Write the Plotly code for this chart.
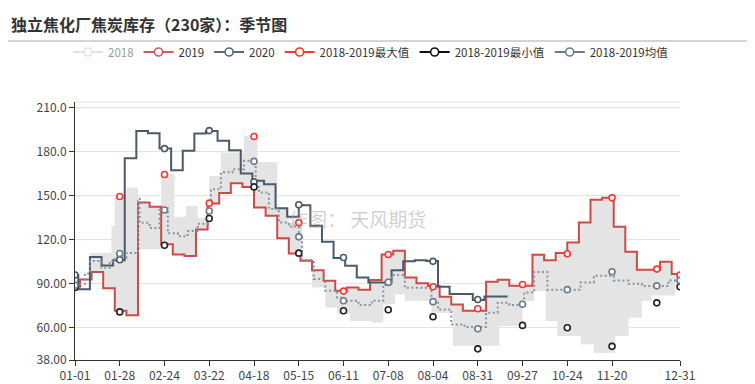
import pandas as pd
import plotly.graph_objects as go

# ---------------- data ----------------
YEAR_BASE = "2020-01-01"

tick_labels = ["01-01", "01-28", "02-24", "03-22", "04-18", "05-15", "06-11",
               "07-08", "08-04", "08-31", "09-27", "10-24", "11-20", "12-31"]
y_tick_vals = [38, 60, 90, 120, 150, 180, 210]
y_tick_text = ["38.00", "60.00", "90.00", "120.0", "150.0", "180.0", "210.0"]

# 2019 weekly values (first value at 01-01, then weekly from 01-04)
start_2019 = 88
weekly_2019 = [93, 98, 87, 71.6, 68.6, 145.4, 142.5, 117, 110, 109,
               127, 144.7, 152, 158.6, 156, 142, 136.4, 121, 110.7, 105.7,
               99.3, 92, 85.2, 87.5, 86, 92.5, 110, 112.5, 94.3, 90.4,
               88.4, 81.1, 75.9, 71.6, 71.6, 91.4, 92.7, 88.6, 88.6, 109.8,
               106, 111, 118.2, 131.8, 147.3, 148.6, 128.9, 111.8, 99.5, 99.5,
               105, 96.6]

# 2020 weekly values (first value at 01-01, then weekly from 01-03)
start_2020 = 96
weekly_2020 = [86.3, 108.2, 102.5, 106, 175.6, 194.3, 192.7, 182.2, 167.5, 180.7,
               192.5, 194.3, 187.5, 181.1, 165.2, 160.2, 157.9, 141.5, 135.7, 143.6,
               129.5, 118.6, 107.5, 102.3, 94.3, 90.9, 90.9, 99.2, 105.3, 106,
               105.5, 88, 83, 83, 79, 81.3, 81.3, 81.3]

# 2018-2019 band (upper / lower), day offsets from 01-01
band_hi_days = [0, 9, 22, 24, 31, 38, 45, 52, 60, 67, 74, 81, 88, 102, 110, 122, 129, 137,
                143, 150, 157, 164, 171, 178, 185, 192, 199, 206, 213, 220, 227, 234,
                248, 255, 262, 276, 283, 290, 297, 304, 311, 318, 325, 332, 339, 353, 360, 365]
band_hi_vals = [93, 111, 129.5, 150, 155.5, 145.4, 142.5, 165, 135.8, 143, 135, 163.5, 179.5,
                191, 173, 142, 132, 107, 99.3, 92, 85.2, 87.5, 86, 92.5, 110, 112.5, 94.3,
                90.4, 88.4, 81.1, 75.9, 71.6, 91.4, 92.7, 88.6, 109.8, 106, 111, 118.2,
                131.8, 147.3, 148.6, 128.9, 111.8, 99.5, 105, 96.6, 96.6]
band_lo_days = [0, 3, 10, 17, 24, 31, 38, 52, 59, 66, 73, 80, 87, 94, 101, 108, 115, 122,
                129, 136, 143, 151, 158, 166, 179, 186, 193, 199, 215, 228, 256, 270, 277,
                284, 291, 305, 313, 326, 334, 342, 348, 362, 365]
band_lo_vals = [87.5, 93, 98, 87, 71.6, 68.6, 113.5, 117, 110, 109, 127, 144.7, 152, 158.6,
                156, 142, 136.4, 121, 110.7, 105.7, 87.5, 73.8, 69.2, 64.6, 63.5, 75.9, 82.7,
                78.4, 70, 47.5, 61.2, 78.2, 85, 64.6, 54.4, 48.7, 43, 54.4, 66.9, 78.5, 82,
                89.5, 89.5]

# 2018-2019 mean (dotted), day offsets from 01-01
mean_days = [0, 6, 9, 16, 21, 24, 31, 38, 39, 45, 51, 56, 62, 68, 74, 81, 82, 88, 95, 102,
             109, 111, 117, 123, 129, 135, 137, 144, 151, 158, 162, 171, 179, 186, 191, 199,
             215, 219, 227, 235, 248, 255, 262, 271, 277, 285, 305, 313, 325, 334, 342, 358, 365]
mean_vals = [90, 97, 105.5, 101, 105.3, 108, 111, 148, 131.6, 128, 141.5, 124.5, 122.5, 126,
             131, 140, 154.5, 166, 168.2, 173.9, 156, 152.3, 141, 131.8, 129, 122, 106.2, 93.2,
             85.3, 80.7, 78.4, 75.5, 78.4, 89.3, 96, 87.3, 78, 72.5, 62.3, 60.5, 70.3, 77.1,
             75.5, 84, 98, 85.9, 90.9, 95.5, 92.3, 90, 88.4, 92.3, 92.3]

# symbols shown on these dates
marker_dates = ["01-01", "01-28", "02-24", "03-22", "04-18", "05-15", "06-11", "07-08",
                "08-04", "08-31", "09-27", "10-24", "11-20", "12-17", "12-31"]
max_marks = [88, 149.5, 164.5, 145, 190.5, 131.7, 85, 110, 88, 73, 89.5, 110.5, 148.6, 100, 96]
min_marks = [87.5, 70.8, 116.3, 134.5, 156.1, 110.9, 71.6, 72.3, 67.5, 45.6, 61.6, 60, 47.3, 77, 88]
mean_marks = [89, 110.6, 140.3, 139.6, 173.5, 122, 78.4, 91, 77.8, 59.3, 76, 86, 98.2, 88.6, 92.3]
marks_2020 = [96, 106.4, 182.2, 194.5, 159.5, 143.9, 107.9, 90.9, 105.3, 79.3]

# ---------------- helpers ----------------
base = pd.Timestamp(YEAR_BASE)


def from_offsets(days):
    return [base + pd.Timedelta(days=d) for d in days]


def md(labels):
    return ["2020-" + s for s in labels]


x_2019 = [base] + list(pd.date_range("2020-01-04", periods=len(weekly_2019), freq="7D")) + [pd.Timestamp("2020-12-31")]
y_2019 = [start_2019] + weekly_2019 + [weekly_2019[-1]]
x_2020 = [base] + list(pd.date_range("2020-01-03", periods=len(weekly_2020), freq="7D"))
y_2020 = [start_2020] + weekly_2020

C2019 = "#cc4a48"
C2020 = "#4a5a6a"
CMEAN = "#8594a1"
CMAX = "#ff3333"
CMIN = "#222222"
CMEANM = "#6c7c8b"
BAND = "#e4e4e4"
FONT = "Microsoft YaHei, Noto Sans CJK SC, sans-serif"

fig = go.Figure()

# band
fig.add_trace(go.Scatter(x=from_offsets(band_lo_days), y=band_lo_vals, mode="lines",
                         line=dict(width=0, shape="hv", color=BAND), showlegend=False,
                         hoverinfo="skip"))
fig.add_trace(go.Scatter(x=from_offsets(band_hi_days), y=band_hi_vals, mode="lines",
                         line=dict(width=0, shape="hv", color=BAND), fill="tonexty",
                         fillcolor=BAND, showlegend=False, hoverinfo="skip"))

# lines
fig.add_trace(go.Scatter(x=x_2019, y=y_2019, mode="lines", name="2019",
                         line=dict(color=C2019, width=2, shape="hv"), showlegend=False))
fig.add_trace(go.Scatter(x=x_2020, y=y_2020, mode="lines", name="2020",
                         line=dict(color=C2020, width=2, shape="hv"), showlegend=False))
fig.add_trace(go.Scatter(x=from_offsets(mean_days), y=mean_vals, mode="lines",
                         line=dict(color=CMEAN, width=2, shape="hv", dash="2px,2.5px"),
                         showlegend=False))


def marks(xs, ys, color):
    return go.Scatter(x=md(xs), y=ys, mode="markers", showlegend=False,
                      marker=dict(symbol="circle", size=6, color="white",
                                  line=dict(color=color, width=1.6)))


fig.add_trace(marks(marker_dates[:len(marks_2020)], marks_2020, C2020))
fig.add_trace(marks(marker_dates, max_marks, CMAX))
fig.add_trace(marks(marker_dates, min_marks, CMIN))
fig.add_trace(marks(marker_dates, mean_marks, CMEANM))

# legend entries
legend_items = [("2018", "#c8c8c8", "legendonly"), ("2019", "#d05a58", True),
                ("2020", "#5a6a7a", True), ("2018-2019最大值", CMAX, True),
                ("2018-2019最小值", "#111111", True), ("2018-2019均值", CMEANM, True)]
for name, col, vis in legend_items:
    fig.add_trace(go.Scatter(x=[None], y=[None], mode="lines+markers", name=name,
                             visible=vis, line=dict(color=col, width=2),
                             marker=dict(symbol="circle", size=8, color="white",
                                         line=dict(color=col, width=1.6))))

fig.update_layout(
    width=755, height=384,
    margin=dict(l=67, r=83, t=94, b=32, autoexpand=False),
    plot_bgcolor="white", paper_bgcolor="white",
    font=dict(family=FONT, size=12, color="#333333"),
    title=dict(text="<b>独立焦化厂焦炭库存（230家）：季节图</b>",
               x=3 / 755, xanchor="left", xref="container",
               y=1 - 17 / 384, yanchor="middle", yref="container",
               font=dict(size=16, color="#333333", family=FONT)),
    legend=dict(orientation="h", xref="paper", yref="paper",
                x=(60 - 67) / 605, xanchor="left", y=(352 - 44) / 258, yanchor="middle",
                font=dict(size=11.5, color="#333333"), traceorder="normal",
                itemwidth=30, bgcolor="rgba(0,0,0,0)"),
    xaxis=dict(type="date", range=[YEAR_BASE, "2020-12-31"],
               tickvals=md(tick_labels), ticktext=tick_labels,
               showgrid=False, showline=True, linecolor="#333333", linewidth=1,
               ticks="outside", ticklen=5, tickcolor="#333333",
               tickfont=dict(size=12, color="#444444"), zeroline=False),
    yaxis=dict(range=[38, 214], tickvals=y_tick_vals, ticktext=y_tick_text,
               showgrid=True, gridcolor="#e3e3e3", gridwidth=1,
               showline=True, linecolor="#333333", linewidth=1,
               ticks="outside", ticklen=5, tickcolor="#333333",
               tickfont=dict(size=12, color="#444444"), zeroline=False),
    shapes=[
        dict(type="line", xref="paper", yref="paper", x0=-67 / 605, x1=688 / 605,
             y0=(352 - 33) / 258, y1=(352 - 33) / 258, line=dict(color="#aaaaaa", width=1)),
        dict(type="line", xref="paper", yref="paper", x0=0, x1=1, y0=1, y1=1,
             line=dict(color="#e3e3e3", width=1), layer="below"),
    ],
    annotations=[
        dict(text="作图： 天风期货", x=(349 - 67) / 605, y=(352 - 210) / 258,
             xref="paper", yref="paper", showarrow=False,
             font=dict(size=19, color="rgba(150,150,150,0.45)", family=FONT)),
    ],
)

fig.write_html("out.html")
